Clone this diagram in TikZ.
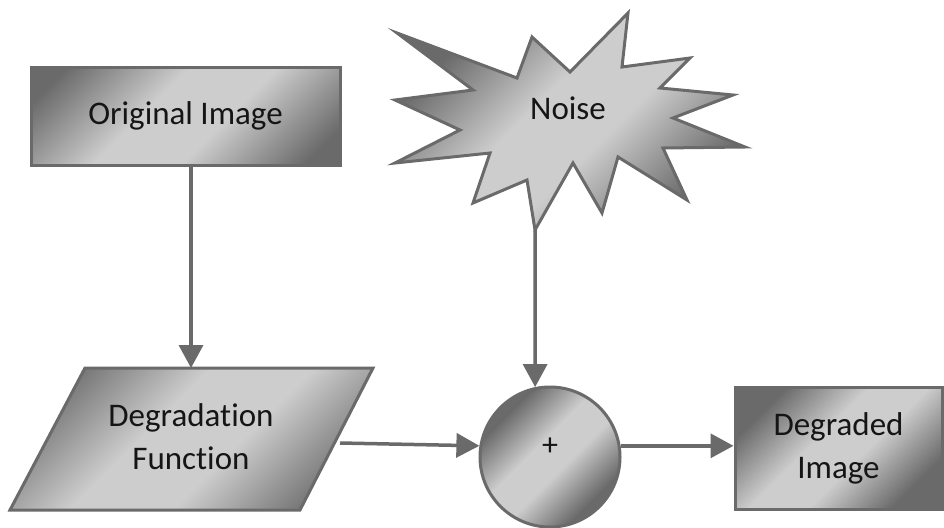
\documentclass[tikz,border=0pt]{standalone}
\usepackage{fontspec}
\setmainfont[RawFeature=-liga]{Carlito}
\usetikzlibrary{arrows.meta}
\definecolor{gdark}{HTML}{6A6A6A}
\definecolor{glight}{HTML}{CDCDCD}
\definecolor{edge}{HTML}{6A6A6A}
\definecolor{ink}{HTML}{151515}
\pgfdeclareverticalshading{office}{100bp}{color(0bp)=(gdark); color(31bp)=(gdark); color(45bp)=(glight); color(55bp)=(glight); color(69bp)=(gdark); color(100bp)=(gdark)}
\begin{document}
\begin{tikzpicture}[x=1pt,y=-1pt,
  fillshape/.style={draw=edge, line width=3pt, fill=glight,
    path picture={\shade[shading=office, shading angle=45]
      ([shift={(-#1,-#1)}]path picture bounding box.center) rectangle
      ([shift={(#1,#1)}]path picture bounding box.center);}},
  box/.style={fillshape=#1, rectangle, inner sep=0pt, text=ink, font=\fontsize{33}{43}\selectfont, align=center},
  lbl/.style={text=ink, font=\fontsize{33}{43}\selectfont, align=center, inner sep=0pt},
  arr/.style={draw=edge, line width=3.5pt, -{Triangle[length=23pt,width=24pt]}}]
\useasboundingbox (0,0) rectangle (944,527);
% Original image box
\node[box=157, minimum width=309pt, minimum height=98pt] (orig) at (185.5,116) {Original Image};
% Degradation function parallelogram
\path[fillshape=184] (85,368) -- (373,368) -- (300,510) -- (10,510) -- cycle;
\node[lbl] (dg) at (191,437) {Degradation\\Function};
\coordinate (dgtop) at (191,368);
\coordinate (dgout) at (340,443);
% Noise starburst
\path[fillshape=177] (397,33) -- (517,78) -- (532,37) -- (570,72) -- (628,13) -- (622,67)
  -- (690,58) -- (660,88) -- (733,95) -- (673,118) -- (745,147) -- (663,148)
  -- (687,200) -- (618,157) -- (602,213) -- (573,163) -- (535,230) -- (527,180)
  -- (473,203) -- (490,153) -- (395,163) -- (460,130) -- (395,100) -- (473,90) -- cycle;
\node[lbl] (noise) at (568,108) {Noise};
\coordinate (noisetip) at (535,230);
% Summing circle
\node[fillshape=80, circle, minimum size=140pt, inner sep=0pt] (sum) at (550,457) {};
\node[lbl, font=\fontsize{32}{36}\selectfont] (plus) at (550,447) {+};
% Degraded image box
\node[box=106, minimum width=207pt, minimum height=122pt] (degr) at (838.5,448) {Degraded\\Image};
% Connectors
\draw[arr] (dgtop |- orig.south) -- (dgtop);
\draw[arr] (noisetip) -- (sum.102);
\draw[arr] (dgout) -- (sum.171);
\draw[arr] (sum.9) -- (sum.9 -| degr.west);
\end{tikzpicture}
\end{document}
